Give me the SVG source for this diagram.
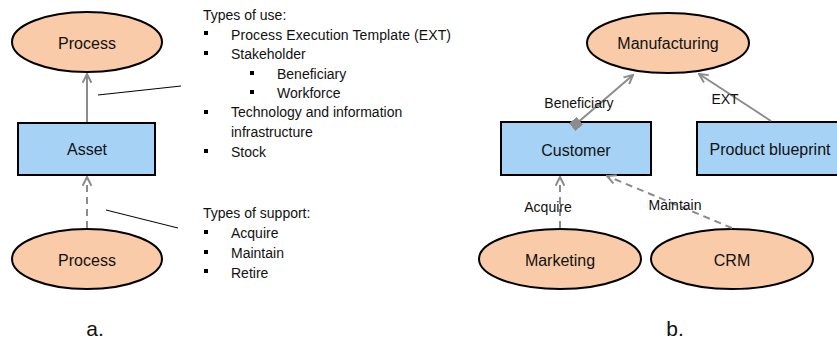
<svg xmlns="http://www.w3.org/2000/svg" width="837" height="345" viewBox="0 0 837 345">
<style>
.proc{fill:#f9cba8;stroke:#000;stroke-width:2}
.asset{fill:#a6d3f5;stroke:#000;stroke-width:2}
.nl{font-family:"Liberation Sans",Arial,sans-serif;font-size:16px;fill:#111;text-anchor:middle}
.el{font-family:"Liberation Sans",Arial,sans-serif;font-size:14px;fill:#111;text-anchor:middle}
.bt{font-family:"Liberation Sans",Arial,sans-serif;font-size:14px;fill:#111}
.conn{stroke:#8c8c8c;stroke-width:2;fill:none}
.dash{stroke-dasharray:7,5}
.ptr{stroke:#000;stroke-width:1;fill:none}
.cap{font-family:"Liberation Sans",Arial,sans-serif;font-size:21px;fill:#111;text-anchor:middle}
</style>
<defs>
<marker id="arr" viewBox="0 0 10 10" refX="9" refY="5" markerWidth="11" markerHeight="11" markerUnits="userSpaceOnUse" orient="auto">
<path d="M1,1 L9,5 L1,9" fill="none" stroke="#8c8c8c" stroke-width="1.8"/>
</marker>
<marker id="sq" viewBox="0 0 10 10" refX="5" refY="5" markerWidth="10" markerHeight="10" markerUnits="userSpaceOnUse" orient="auto">
<rect x="0" y="0" width="10" height="10" fill="#8c8c8c"/>
</marker>
</defs>
<g id="pointers">
<line class="ptr" x1="98" y1="95" x2="181" y2="86"/>
<line class="ptr" x1="106" y1="210" x2="178" y2="228"/>
</g>
<g id="process-top">
<ellipse class="proc" cx="87" cy="42" rx="75" ry="30"/>
<text class="nl" x="87" y="49">Process</text>
</g>
<g id="asset">
<rect class="asset" x="18" y="123" width="137" height="52"/>
<text class="nl" x="87" y="155">Asset</text>
</g>
<g id="process-bottom">
<ellipse class="proc" cx="87" cy="259" rx="75" ry="30"/>
<text class="nl" x="87" y="266">Process</text>
</g>
<g id="types-of-use">
<text class="bt" x="203" y="20">Types of use:</text>
<rect x="204" y="31" width="4" height="4"/>
<text class="bt" x="231" y="40" textLength="220">Process Execution Template (EXT)</text>
<rect x="204" y="51" width="4" height="4"/>
<text class="bt" x="231" y="59">Stakeholder</text>
<rect x="250" y="71" width="4" height="4"/>
<text class="bt" x="277" y="79">Beneficiary</text>
<rect x="250" y="90" width="4" height="4"/>
<text class="bt" x="277" y="98">Workforce</text>
<rect x="204" y="110" width="4" height="4"/>
<text class="bt" x="231" y="117">Technology and information</text>
<text class="bt" x="231" y="137">infrastructure</text>
<rect x="204" y="149" width="4" height="4"/>
<text class="bt" x="231" y="157">Stock</text>
</g>
<g id="types-of-support">
<text class="bt" x="203" y="218">Types of support:</text>
<rect x="204" y="230" width="4" height="4"/>
<text class="bt" x="231" y="238">Acquire</text>
<rect x="204" y="250" width="4" height="4"/>
<text class="bt" x="231" y="258">Maintain</text>
<rect x="204" y="269" width="4" height="4"/>
<text class="bt" x="231" y="278">Retire</text>
</g>
<g id="manufacturing">
<ellipse class="proc" cx="668" cy="43" rx="81" ry="30"/>
<text class="nl" x="668" y="49">Manufacturing</text>
</g>
<g id="customer">
<rect class="asset" x="501" y="122" width="150" height="53"/>
<text class="nl" x="576" y="156">Customer</text>
</g>
<g id="product-blueprint">
<rect class="asset" x="697" y="122" width="160" height="53"/>
<text class="nl" x="770" y="155">Product blueprint</text>
</g>
<g id="marketing">
<ellipse class="proc" cx="560" cy="259" rx="81" ry="30"/>
<text class="nl" x="560" y="266">Marketing</text>
</g>
<g id="crm">
<ellipse class="proc" cx="732" cy="259" rx="81" ry="30"/>
<text class="nl" x="732" y="266">CRM</text>
</g>
<g id="connectors">
<line class="conn" x1="87" y1="122" x2="87" y2="74" marker-end="url(#arr)"/>
<line class="conn dash" x1="87" y1="228" x2="87" y2="177" marker-end="url(#arr)"/>
<line class="conn" x1="576" y1="124" x2="633" y2="75" marker-start="url(#sq)" marker-end="url(#arr)"/>
<line class="conn" x1="771" y1="121" x2="699" y2="74" marker-end="url(#arr)"/>
<line class="conn dash" x1="560" y1="228" x2="560" y2="177" marker-end="url(#arr)"/>
<line class="conn dash" x1="732" y1="228" x2="607" y2="176" marker-end="url(#arr)"/>
<text class="el" x="579" y="108">Beneficiary</text>
<text class="el" x="725" y="104">EXT</text>
<text class="el" x="548" y="212">Acquire</text>
<text class="el" x="675" y="210">Maintain</text>
</g>
<g id="captions">
<text class="cap" x="95" y="336">a.</text>
<text class="cap" x="675" y="336">b.</text>
</g>
</svg>
